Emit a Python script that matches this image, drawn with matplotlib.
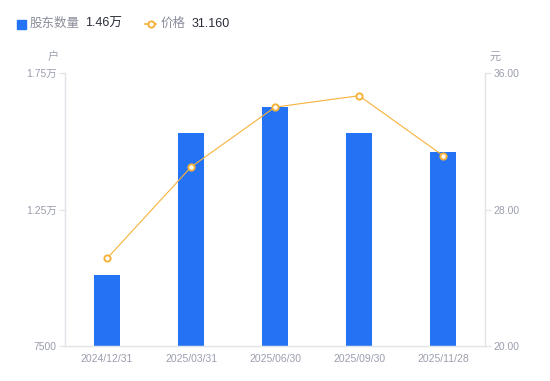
import matplotlib
matplotlib.use('Agg')
import matplotlib.pyplot as plt
from matplotlib.lines import Line2D

plt.rcParams['font.family'] = ['Liberation Sans', 'Noto Sans CJK SC', 'DejaVu Sans']

dates = ['2024/12/31', '2025/03/31', '2025/06/30', '2025/09/30', '2025/11/28']
holders = [10100, 15300, 16250, 15300, 14620]
price = [25.13, 30.49, 34.00, 34.67, 31.16]

left_ticks = [7500, 12500, 17500]
left_labels = ['7500', '1.25万', '1.75万']
right_ticks = [20, 28, 36]
right_labels = ['20.00', '28.00', '36.00']

bar_color = '#2473f5'
line_color = '#f7b23b'
tick_color = '#9b9eae'
axis_color = '#e3e4e8'

fig = plt.figure(figsize=(5.5, 3.81), dpi=100)
ax = fig.add_axes([65 / 550, 35 / 381, 420 / 550, 273 / 381])
ax2 = ax.twinx()

x = list(range(len(dates)))
ax.bar(x, holders, width=0.3, color=bar_color, zorder=2)
ax.set_xlim(-0.5, len(dates) - 0.5)
ax.set_ylim(7500, 17500)
ax.set_yticks(left_ticks)
ax.set_yticklabels(left_labels)
ax.set_xticks(x)
ax.set_xticklabels(dates)

ax2.plot(x, price, color=line_color, lw=0.8, marker='o', ms=4.5,
         mfc='white', mec=line_color, mew=1.4, zorder=3)
ax2.set_ylim(20, 36)
ax2.set_yticks(right_ticks)
ax2.set_yticklabels(right_labels)

for a in (ax, ax2):
    for s in a.spines.values():
        s.set_color(axis_color)
        s.set_linewidth(0.9)
    a.spines['top'].set_visible(False)
    a.tick_params(axis='y', colors=axis_color, labelcolor=tick_color,
                  labelsize=7.5, length=4, width=0.9, pad=2)
    a.tick_params(axis='x', length=0, labelcolor=tick_color, labelsize=7.5, pad=6)

ax.text(-0.015, 1.06, '户', transform=ax.transAxes, ha='right', va='center',
        fontsize=8, color=tick_color)
ax.text(1.01, 1.06, '元', transform=ax.transAxes, ha='left', va='center',
        fontsize=8, color=tick_color)

# legend row
fig.patches.append(plt.Rectangle((17 / 550, 1 - 29 / 381), 9 / 550, 9 / 381,
                                 transform=fig.transFigure, color=bar_color))
fig.text(30 / 550, 1 - 24 / 381, '股东数量', fontsize=9, color='#8a8d9a', va='center')
fig.text(85 / 550, 1 - 24 / 381, '1.46万', fontsize=9, color='#2a2d3a', va='center')
fig.lines.append(Line2D([145 / 550, 156 / 550], [1 - 24 / 381, 1 - 24 / 381],
                        transform=fig.transFigure, color=line_color, lw=1.2))
fig.lines.append(Line2D([150.5 / 550], [1 - 24 / 381], transform=fig.transFigure,
                        color=line_color, marker='o', ms=4.5, mfc='white',
                        mec=line_color, mew=1.4, lw=0))
fig.text(161 / 550, 1 - 24 / 381, '价格', fontsize=9, color='#8a8d9a', va='center')
fig.text(192 / 550, 1 - 24 / 381, '31.160', fontsize=9, color='#2a2d3a', va='center')

fig.savefig('out.png', dpi=100)
